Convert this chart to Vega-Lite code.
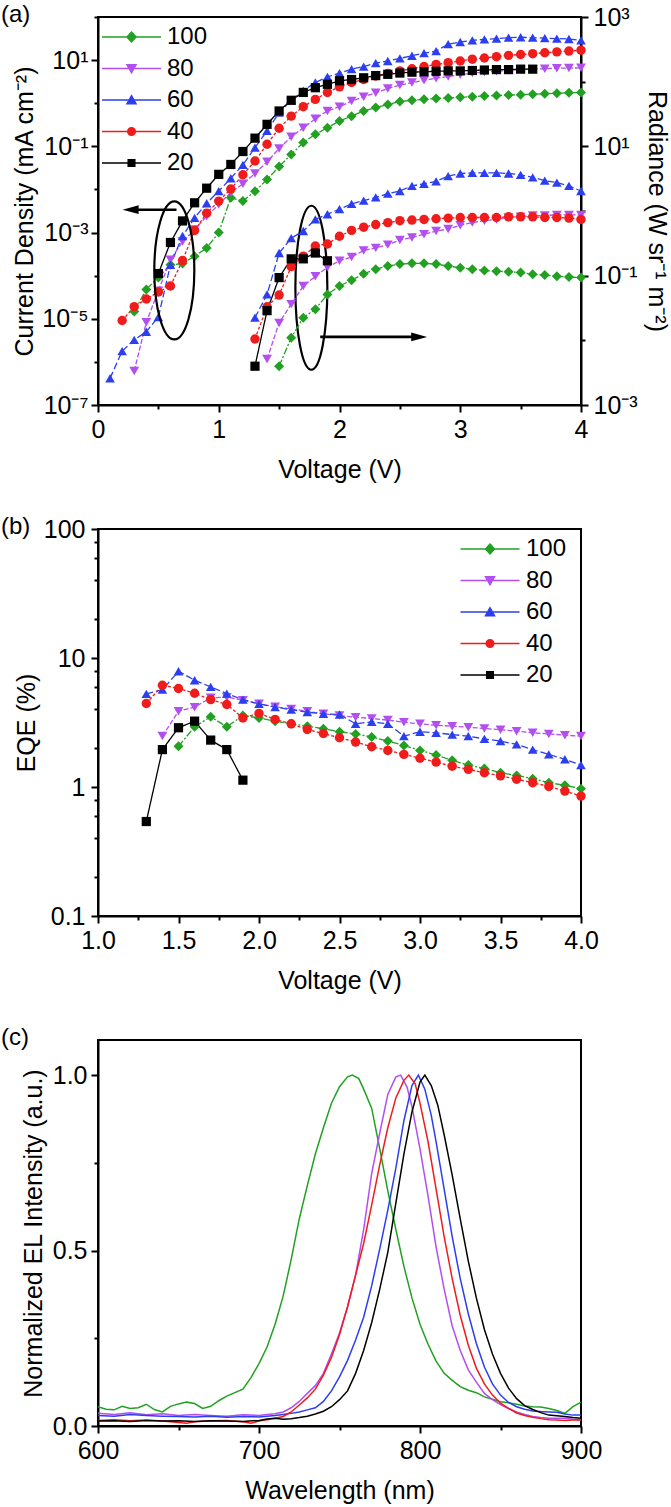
{
 "$schema": "https://vega.github.io/schema/vega-lite/v6.json",
 "background": "white",
 "padding": {"left": 0, "top": 2, "right": 4, "bottom": 4},
 "spacing": 124,
 "bounds": "flush",
 "datasets": {
  "J": [
   {"s":"100","v":0.3,"j":1.48e-5},{"s":"100","v":0.4,"j":4.79e-5},{"s":"100","v":0.5,"j":9.12e-5},{"s":"100","v":0.6,"j":1.78e-4},{"s":"100","v":0.7,"j":1.91e-4},{"s":"100","v":0.8,"j":2.82e-4},{"s":"100","v":0.9,"j":4.37e-4},{"s":"100","v":1.0,"j":1.0e-3},{"s":"100","v":1.1,"j":6.46e-3},{"s":"100","v":1.2,"j":5.37e-3},{"s":"100","v":1.3,"j":9.12e-3},{"s":"100","v":1.4,"j":1.70e-2},{"s":"100","v":1.5,"j":3.39e-2},{"s":"100","v":1.6,"j":6.46e-2},{"s":"100","v":1.7,"j":0.123},{"s":"100","v":1.8,"j":0.191},{"s":"100","v":1.9,"j":0.269},{"s":"100","v":2.0,"j":0.389},{"s":"100","v":2.1,"j":0.501},{"s":"100","v":2.2,"j":0.661},{"s":"100","v":2.3,"j":0.794},{"s":"100","v":2.4,"j":0.933},{"s":"100","v":2.5,"j":1.10},{"s":"100","v":2.6,"j":1.17},{"s":"100","v":2.7,"j":1.23},{"s":"100","v":2.8,"j":1.29},{"s":"100","v":2.9,"j":1.32},{"s":"100","v":3.0,"j":1.38},{"s":"100","v":3.1,"j":1.41},{"s":"100","v":3.2,"j":1.48},{"s":"100","v":3.3,"j":1.51},{"s":"100","v":3.4,"j":1.55},{"s":"100","v":3.5,"j":1.58},{"s":"100","v":3.6,"j":1.62},{"s":"100","v":3.7,"j":1.66},{"s":"100","v":3.8,"j":1.70},{"s":"100","v":3.9,"j":1.74},{"s":"100","v":4.0,"j":1.78},
   {"s":"80","v":0.3,"j":6.17e-7},{"s":"80","v":0.4,"j":8.32e-6},{"s":"80","v":0.5,"j":4.47e-5},{"s":"80","v":0.6,"j":2.34e-4},{"s":"80","v":0.7,"j":6.17e-4},{"s":"80","v":0.8,"j":1.17e-3},{"s":"80","v":0.9,"j":2.40e-3},{"s":"80","v":1.0,"j":4.47e-3},{"s":"80","v":1.1,"j":8.51e-3},{"s":"80","v":1.2,"j":1.35e-2},{"s":"80","v":1.3,"j":2.34e-2},{"s":"80","v":1.4,"j":4.37e-2},{"s":"80","v":1.5,"j":8.91e-2},{"s":"80","v":1.6,"j":0.166},{"s":"80","v":1.7,"j":0.269},{"s":"80","v":1.8,"j":0.437},{"s":"80","v":1.9,"j":0.661},{"s":"80","v":2.0,"j":0.832},{"s":"80","v":2.1,"j":1.12},{"s":"80","v":2.2,"j":1.41},{"s":"80","v":2.3,"j":1.74},{"s":"80","v":2.4,"j":2.19},{"s":"80","v":2.5,"j":2.63},{"s":"80","v":2.6,"j":3.02},{"s":"80","v":2.7,"j":3.39},{"s":"80","v":2.8,"j":3.80},{"s":"80","v":2.9,"j":4.17},{"s":"80","v":3.0,"j":4.57},{"s":"80","v":3.1,"j":5.01},{"s":"80","v":3.2,"j":5.25},{"s":"80","v":3.3,"j":5.50},{"s":"80","v":3.4,"j":5.75},{"s":"80","v":3.5,"j":6.03},{"s":"80","v":3.6,"j":6.17},{"s":"80","v":3.7,"j":6.31},{"s":"80","v":3.8,"j":6.46},{"s":"80","v":3.9,"j":6.53},{"s":"80","v":4.0,"j":6.61},
   {"s":"60","v":0.1,"j":4.17e-7},{"s":"60","v":0.2,"j":1.78e-6},{"s":"60","v":0.3,"j":3.24e-6},{"s":"60","v":0.4,"j":5.01e-6},{"s":"60","v":0.5,"j":1.10e-5},{"s":"60","v":0.6,"j":1.78e-4},{"s":"60","v":0.7,"j":8.32e-4},{"s":"60","v":0.8,"j":2.19e-3},{"s":"60","v":0.9,"j":4.79e-3},{"s":"60","v":1.0,"j":9.12e-3},{"s":"60","v":1.1,"j":1.82e-2},{"s":"60","v":1.2,"j":3.72e-2},{"s":"60","v":1.3,"j":9.33e-2},{"s":"60","v":1.4,"j":0.229},{"s":"60","v":1.5,"j":0.603},{"s":"60","v":1.6,"j":1.17},{"s":"60","v":1.7,"j":1.95},{"s":"60","v":1.8,"j":3.02},{"s":"60","v":1.9,"j":4.07},{"s":"60","v":2.0,"j":5.01},{"s":"60","v":2.1,"j":6.17},{"s":"60","v":2.2,"j":7.08},{"s":"60","v":2.3,"j":8.51},{"s":"60","v":2.4,"j":9.55},{"s":"60","v":2.5,"j":11.0},{"s":"60","v":2.6,"j":12.6},{"s":"60","v":2.7,"j":14.5},{"s":"60","v":2.8,"j":16.2},{"s":"60","v":2.9,"j":23.4},{"s":"60","v":3.0,"j":26.3},{"s":"60","v":3.1,"j":28.8},{"s":"60","v":3.2,"j":30.2},{"s":"60","v":3.3,"j":31.6},{"s":"60","v":3.4,"j":33.1},{"s":"60","v":3.5,"j":33.9},{"s":"60","v":3.6,"j":33.1},{"s":"60","v":3.7,"j":32.4},{"s":"60","v":3.8,"j":31.6},{"s":"60","v":3.9,"j":30.9},{"s":"60","v":4.0,"j":28.8},
   {"s":"40","v":0.2,"j":9.12e-6},{"s":"40","v":0.3,"j":1.91e-5},{"s":"40","v":0.4,"j":2.88e-5},{"s":"40","v":0.5,"j":4.17e-5},{"s":"40","v":0.6,"j":5.75e-5},{"s":"40","v":0.7,"j":2.24e-4},{"s":"40","v":0.8,"j":1.12e-3},{"s":"40","v":0.9,"j":2.82e-3},{"s":"40","v":1.0,"j":5.37e-3},{"s":"40","v":1.1,"j":1.02e-2},{"s":"40","v":1.2,"j":2.19e-2},{"s":"40","v":1.3,"j":4.57e-2},{"s":"40","v":1.4,"j":0.112},{"s":"40","v":1.5,"j":0.263},{"s":"40","v":1.6,"j":0.501},{"s":"40","v":1.7,"j":0.832},{"s":"40","v":1.8,"j":1.23},{"s":"40","v":1.9,"j":1.78},{"s":"40","v":2.0,"j":2.40},{"s":"40","v":2.1,"j":3.02},{"s":"40","v":2.2,"j":3.55},{"s":"40","v":2.3,"j":4.27},{"s":"40","v":2.4,"j":4.90},{"s":"40","v":2.5,"j":5.62},{"s":"40","v":2.6,"j":6.31},{"s":"40","v":2.7,"j":7.08},{"s":"40","v":2.8,"j":7.94},{"s":"40","v":2.9,"j":8.71},{"s":"40","v":3.0,"j":9.55},{"s":"40","v":3.1,"j":10.5},{"s":"40","v":3.2,"j":11.2},{"s":"40","v":3.3,"j":12.0},{"s":"40","v":3.4,"j":12.9},{"s":"40","v":3.5,"j":13.5},{"s":"40","v":3.6,"j":14.1},{"s":"40","v":3.7,"j":14.8},{"s":"40","v":3.8,"j":15.5},{"s":"40","v":3.9,"j":16.2},{"s":"40","v":4.0,"j":17.0},
   {"s":"20","v":0.5,"j":1.12e-4},{"s":"20","v":0.6,"j":5.89e-4},{"s":"20","v":0.7,"j":1.86e-3},{"s":"20","v":0.8,"j":4.90e-3},{"s":"20","v":0.9,"j":1.07e-2},{"s":"20","v":1.0,"j":2.24e-2},{"s":"20","v":1.1,"j":3.80e-2},{"s":"20","v":1.2,"j":7.59e-2},{"s":"20","v":1.3,"j":0.155},{"s":"20","v":1.4,"j":0.324},{"s":"20","v":1.5,"j":0.661},{"s":"20","v":1.6,"j":1.17},{"s":"20","v":1.7,"j":1.78},{"s":"20","v":1.8,"j":2.29},{"s":"20","v":1.9,"j":2.75},{"s":"20","v":2.0,"j":3.31},{"s":"20","v":2.1,"j":3.55},{"s":"20","v":2.2,"j":3.89},{"s":"20","v":2.3,"j":4.37},{"s":"20","v":2.4,"j":4.68},{"s":"20","v":2.5,"j":5.01},{"s":"20","v":2.6,"j":5.25},{"s":"20","v":2.7,"j":5.37},{"s":"20","v":2.8,"j":5.50},{"s":"20","v":2.9,"j":5.62},{"s":"20","v":3.0,"j":5.62},{"s":"20","v":3.1,"j":5.75},{"s":"20","v":3.2,"j":5.89},{"s":"20","v":3.3,"j":6.03},{"s":"20","v":3.4,"j":6.03},{"s":"20","v":3.5,"j":6.17},{"s":"20","v":3.6,"j":6.17}
  ],
  "R": [
   {"s":"100","v":1.5,"r":3.98e-3},{"s":"100","v":1.6,"r":1.10e-2},{"s":"100","v":1.7,"r":2.24e-2},{"s":"100","v":1.8,"r":3.02e-2},{"s":"100","v":1.9,"r":5.13e-2},{"s":"100","v":2.0,"r":6.92e-2},{"s":"100","v":2.1,"r":8.51e-2},{"s":"100","v":2.2,"r":0.107},{"s":"100","v":2.3,"r":0.126},{"s":"100","v":2.4,"r":0.141},{"s":"100","v":2.5,"r":0.151},{"s":"100","v":2.6,"r":0.155},{"s":"100","v":2.7,"r":0.155},{"s":"100","v":2.8,"r":0.151},{"s":"100","v":2.9,"r":0.141},{"s":"100","v":3.0,"r":0.132},{"s":"100","v":3.1,"r":0.126},{"s":"100","v":3.2,"r":0.120},{"s":"100","v":3.3,"r":0.117},{"s":"100","v":3.4,"r":0.115},{"s":"100","v":3.5,"r":0.112},{"s":"100","v":3.6,"r":0.105},{"s":"100","v":3.7,"r":0.102},{"s":"100","v":3.8,"r":0.0977},{"s":"100","v":3.9,"r":0.0955},{"s":"100","v":4.0,"r":0.0933},
   {"s":"80","v":1.4,"r":5.13e-3},{"s":"80","v":1.5,"r":1.86e-2},{"s":"80","v":1.6,"r":3.63e-2},{"s":"80","v":1.7,"r":6.92e-2},{"s":"80","v":1.8,"r":9.77e-2},{"s":"80","v":1.9,"r":0.135},{"s":"80","v":2.0,"r":0.170},{"s":"80","v":2.1,"r":0.195},{"s":"80","v":2.2,"r":0.245},{"s":"80","v":2.3,"r":0.269},{"s":"80","v":2.4,"r":0.302},{"s":"80","v":2.5,"r":0.355},{"s":"80","v":2.6,"r":0.389},{"s":"80","v":2.7,"r":0.437},{"s":"80","v":2.8,"r":0.490},{"s":"80","v":2.9,"r":0.525},{"s":"80","v":3.0,"r":0.603},{"s":"80","v":3.1,"r":0.661},{"s":"80","v":3.2,"r":0.708},{"s":"80","v":3.3,"r":0.741},{"s":"80","v":3.4,"r":0.794},{"s":"80","v":3.5,"r":0.813},{"s":"80","v":3.6,"r":0.851},{"s":"80","v":3.7,"r":0.851},{"s":"80","v":3.8,"r":0.871},{"s":"80","v":3.9,"r":0.871},{"s":"80","v":4.0,"r":0.871},
   {"s":"60","v":1.3,"r":2.24e-2},{"s":"60","v":1.4,"r":5.13e-2},{"s":"60","v":1.5,"r":0.224},{"s":"60","v":1.6,"r":0.380},{"s":"60","v":1.7,"r":0.490},{"s":"60","v":1.8,"r":0.741},{"s":"60","v":1.9,"r":0.891},{"s":"60","v":2.0,"r":1.07},{"s":"60","v":2.1,"r":1.29},{"s":"60","v":2.2,"r":1.45},{"s":"60","v":2.3,"r":1.62},{"s":"60","v":2.4,"r":1.86},{"s":"60","v":2.5,"r":2.04},{"s":"60","v":2.6,"r":2.45},{"s":"60","v":2.7,"r":2.63},{"s":"60","v":2.8,"r":2.88},{"s":"60","v":2.9,"r":3.47},{"s":"60","v":3.0,"r":3.80},{"s":"60","v":3.1,"r":3.89},{"s":"60","v":3.2,"r":3.89},{"s":"60","v":3.3,"r":3.89},{"s":"60","v":3.4,"r":3.80},{"s":"60","v":3.5,"r":3.63},{"s":"60","v":3.6,"r":3.31},{"s":"60","v":3.7,"r":2.95},{"s":"60","v":3.8,"r":2.75},{"s":"60","v":3.9,"r":2.45},{"s":"60","v":4.0,"r":2.04},
   {"s":"40","v":1.3,"r":1.05e-2},{"s":"40","v":1.4,"r":3.31e-2},{"s":"40","v":1.5,"r":5.01e-2},{"s":"40","v":1.6,"r":0.138},{"s":"40","v":1.7,"r":0.200},{"s":"40","v":1.8,"r":0.288},{"s":"40","v":1.9,"r":0.309},{"s":"40","v":2.0,"r":0.407},{"s":"40","v":2.1,"r":0.501},{"s":"40","v":2.2,"r":0.562},{"s":"40","v":2.3,"r":0.617},{"s":"40","v":2.4,"r":0.661},{"s":"40","v":2.5,"r":0.708},{"s":"40","v":2.6,"r":0.724},{"s":"40","v":2.7,"r":0.741},{"s":"40","v":2.8,"r":0.759},{"s":"40","v":2.9,"r":0.776},{"s":"40","v":3.0,"r":0.794},{"s":"40","v":3.1,"r":0.794},{"s":"40","v":3.2,"r":0.794},{"s":"40","v":3.3,"r":0.794},{"s":"40","v":3.4,"r":0.813},{"s":"40","v":3.5,"r":0.813},{"s":"40","v":3.6,"r":0.813},{"s":"40","v":3.7,"r":0.794},{"s":"40","v":3.8,"r":0.794},{"s":"40","v":3.9,"r":0.776},{"s":"40","v":4.0,"r":0.741},
   {"s":"20","v":1.3,"r":3.98e-3},{"s":"20","v":1.4,"r":2.88e-2},{"s":"20","v":1.5,"r":9.33e-2},{"s":"20","v":1.6,"r":0.182},{"s":"20","v":1.7,"r":0.182},{"s":"20","v":1.8,"r":0.224},{"s":"20","v":1.9,"r":0.170}
  ],
  "E": [
   {"s":"100","v":1.5,"e":2.07},{"s":"100","v":1.6,"e":2.93},{"s":"100","v":1.7,"e":3.50},{"s":"100","v":1.8,"e":2.93},{"s":"100","v":1.9,"e":3.58},{"s":"100","v":2.0,"e":3.43},{"s":"100","v":2.1,"e":3.24},{"s":"100","v":2.2,"e":3.09},{"s":"100","v":2.3,"e":2.96},{"s":"100","v":2.4,"e":2.83},{"s":"100","v":2.5,"e":2.68},{"s":"100","v":2.6,"e":2.58},{"s":"100","v":2.7,"e":2.44},{"s":"100","v":2.8,"e":2.27},{"s":"100","v":2.9,"e":2.10},{"s":"100","v":3.0,"e":1.92},{"s":"100","v":3.1,"e":1.77},{"s":"100","v":3.2,"e":1.61},{"s":"100","v":3.3,"e":1.48},{"s":"100","v":3.4,"e":1.39},{"s":"100","v":3.5,"e":1.29},{"s":"100","v":3.6,"e":1.23},{"s":"100","v":3.7,"e":1.16},{"s":"100","v":3.8,"e":1.08},{"s":"100","v":3.9,"e":1.03},{"s":"100","v":4.0,"e":0.97},
   {"s":"80","v":1.4,"e":2.48},{"s":"80","v":1.5,"e":3.87},{"s":"80","v":1.6,"e":4.16},{"s":"80","v":1.7,"e":4.91},{"s":"80","v":1.8,"e":4.97},{"s":"80","v":1.9,"e":4.71},{"s":"80","v":2.0,"e":4.41},{"s":"80","v":2.1,"e":4.18},{"s":"80","v":2.2,"e":4.03},{"s":"80","v":2.3,"e":3.87},{"s":"80","v":2.4,"e":3.69},{"s":"80","v":2.5,"e":3.58},{"s":"80","v":2.6,"e":3.48},{"s":"80","v":2.7,"e":3.40},{"s":"80","v":2.8,"e":3.30},{"s":"80","v":2.9,"e":3.18},{"s":"80","v":3.0,"e":3.09},{"s":"80","v":3.1,"e":3.01},{"s":"80","v":3.2,"e":2.96},{"s":"80","v":3.3,"e":2.91},{"s":"80","v":3.4,"e":2.84},{"s":"80","v":3.5,"e":2.78},{"s":"80","v":3.6,"e":2.71},{"s":"80","v":3.7,"e":2.63},{"s":"80","v":3.8,"e":2.58},{"s":"80","v":3.9,"e":2.52},{"s":"80","v":4.0,"e":2.48},
   {"s":"60","v":1.3,"e":5.27},{"s":"60","v":1.4,"e":5.69},{"s":"60","v":1.5,"e":7.89},{"s":"60","v":1.6,"e":6.72},{"s":"60","v":1.7,"e":5.97},{"s":"60","v":1.8,"e":5.30},{"s":"60","v":1.9,"e":4.76},{"s":"60","v":2.0,"e":4.41},{"s":"60","v":2.1,"e":4.16},{"s":"60","v":2.2,"e":3.98},{"s":"60","v":2.3,"e":3.80},{"s":"60","v":2.4,"e":3.69},{"s":"60","v":2.5,"e":3.65},{"s":"60","v":2.6,"e":3.09},{"s":"60","v":2.7,"e":3.20},{"s":"60","v":2.8,"e":3.09},{"s":"60","v":2.9,"e":2.48},{"s":"60","v":3.0,"e":2.68},{"s":"60","v":3.1,"e":2.63},{"s":"60","v":3.2,"e":2.55},{"s":"60","v":3.3,"e":2.48},{"s":"60","v":3.4,"e":2.36},{"s":"60","v":3.5,"e":2.27},{"s":"60","v":3.6,"e":2.14},{"s":"60","v":3.7,"e":1.95},{"s":"60","v":3.8,"e":1.79},{"s":"60","v":3.9,"e":1.64},{"s":"60","v":4.0,"e":1.48},
   {"s":"40","v":1.3,"e":4.44},{"s":"40","v":1.4,"e":6.15},{"s":"40","v":1.5,"e":5.80},{"s":"40","v":1.6,"e":5.33},{"s":"40","v":1.7,"e":4.76},{"s":"40","v":1.8,"e":4.36},{"s":"40","v":1.9,"e":3.43},{"s":"40","v":2.0,"e":3.72},{"s":"40","v":2.1,"e":3.34},{"s":"40","v":2.2,"e":3.09},{"s":"40","v":2.3,"e":2.79},{"s":"40","v":2.4,"e":2.60},{"s":"40","v":2.5,"e":2.41},{"s":"40","v":2.6,"e":2.23},{"s":"40","v":2.7,"e":2.05},{"s":"40","v":2.8,"e":1.92},{"s":"40","v":2.9,"e":1.79},{"s":"40","v":3.0,"e":1.67},{"s":"40","v":3.1,"e":1.56},{"s":"40","v":3.2,"e":1.45},{"s":"40","v":3.3,"e":1.37},{"s":"40","v":3.4,"e":1.29},{"s":"40","v":3.5,"e":1.22},{"s":"40","v":3.6,"e":1.15},{"s":"40","v":3.7,"e":1.08},{"s":"40","v":3.8,"e":1.01},{"s":"40","v":3.9,"e":0.93},{"s":"40","v":4.0,"e":0.85},
   {"s":"20","v":1.3,"e":0.54},{"s":"20","v":1.4,"e":1.95},{"s":"20","v":1.5,"e":2.88},{"s":"20","v":1.6,"e":3.24},{"s":"20","v":1.7,"e":2.31},{"s":"20","v":1.8,"e":1.95},{"s":"20","v":1.9,"e":1.13}
  ],
  "EL": [
   {"s":"100","w":600,"i":0.055},{"s":"100","w":605,"i":0.048},{"s":"100","w":610,"i":0.046},{"s":"100","w":615,"i":0.056},{"s":"100","w":620,"i":0.05},{"s":"100","w":625,"i":0.052},{"s":"100","w":630,"i":0.062},{"s":"100","w":635,"i":0.047},{"s":"100","w":640,"i":0.04},{"s":"100","w":645,"i":0.056},{"s":"100","w":650,"i":0.063},{"s":"100","w":655,"i":0.068},{"s":"100","w":660,"i":0.064},{"s":"100","w":665,"i":0.05},{"s":"100","w":670,"i":0.056},{"s":"100","w":675,"i":0.072},{"s":"100","w":680,"i":0.085},{"s":"100","w":685,"i":0.095},{"s":"100","w":690,"i":0.105},{"s":"100","w":695,"i":0.138},{"s":"100","w":700,"i":0.178},{"s":"100","w":705,"i":0.225},{"s":"100","w":710,"i":0.29},{"s":"100","w":715,"i":0.37},{"s":"100","w":720,"i":0.475},{"s":"100","w":725,"i":0.59},{"s":"100","w":730,"i":0.685},{"s":"100","w":735,"i":0.775},{"s":"100","w":740,"i":0.85},{"s":"100","w":745,"i":0.92},{"s":"100","w":750,"i":0.967},{"s":"100","w":755,"i":0.995},{"s":"100","w":758,"i":1.0},{"s":"100","w":762,"i":0.99},{"s":"100","w":765,"i":0.96},{"s":"100","w":770,"i":0.905},{"s":"100","w":775,"i":0.79},{"s":"100","w":780,"i":0.67},{"s":"100","w":785,"i":0.56},{"s":"100","w":790,"i":0.455},{"s":"100","w":795,"i":0.365},{"s":"100","w":800,"i":0.29},{"s":"100","w":805,"i":0.233},{"s":"100","w":810,"i":0.185},{"s":"100","w":815,"i":0.15},{"s":"100","w":820,"i":0.13},{"s":"100","w":825,"i":0.112},{"s":"100","w":830,"i":0.102},{"s":"100","w":835,"i":0.095},{"s":"100","w":840,"i":0.083},{"s":"100","w":845,"i":0.076},{"s":"100","w":850,"i":0.069},{"s":"100","w":855,"i":0.066},{"s":"100","w":860,"i":0.062},{"s":"100","w":865,"i":0.057},{"s":"100","w":870,"i":0.055},{"s":"100","w":875,"i":0.054},{"s":"100","w":880,"i":0.05},{"s":"100","w":885,"i":0.044},{"s":"100","w":890,"i":0.036},{"s":"100","w":895,"i":0.055},{"s":"100","w":900,"i":0.068},
   {"s":"80","w":600,"i":0.036},{"s":"80","w":610,"i":0.033},{"s":"80","w":620,"i":0.038},{"s":"80","w":630,"i":0.032},{"s":"80","w":640,"i":0.035},{"s":"80","w":650,"i":0.03},{"s":"80","w":660,"i":0.033},{"s":"80","w":670,"i":0.03},{"s":"80","w":680,"i":0.028},{"s":"80","w":690,"i":0.032},{"s":"80","w":700,"i":0.03},{"s":"80","w":705,"i":0.033},{"s":"80","w":710,"i":0.035},{"s":"80","w":715,"i":0.04},{"s":"80","w":720,"i":0.052},{"s":"80","w":725,"i":0.07},{"s":"80","w":730,"i":0.093},{"s":"80","w":735,"i":0.115},{"s":"80","w":740,"i":0.15},{"s":"80","w":745,"i":0.205},{"s":"80","w":750,"i":0.265},{"s":"80","w":755,"i":0.34},{"s":"80","w":760,"i":0.43},{"s":"80","w":765,"i":0.56},{"s":"80","w":770,"i":0.72},{"s":"80","w":775,"i":0.835},{"s":"80","w":780,"i":0.945},{"s":"80","w":785,"i":0.995},{"s":"80","w":788,"i":1.0},{"s":"80","w":792,"i":0.965},{"s":"80","w":795,"i":0.91},{"s":"80","w":800,"i":0.79},{"s":"80","w":805,"i":0.655},{"s":"80","w":810,"i":0.51},{"s":"80","w":815,"i":0.39},{"s":"80","w":820,"i":0.285},{"s":"80","w":825,"i":0.215},{"s":"80","w":830,"i":0.16},{"s":"80","w":835,"i":0.125},{"s":"80","w":840,"i":0.093},{"s":"80","w":845,"i":0.075},{"s":"80","w":850,"i":0.061},{"s":"80","w":855,"i":0.05},{"s":"80","w":860,"i":0.04},{"s":"80","w":865,"i":0.033},{"s":"80","w":870,"i":0.027},{"s":"80","w":875,"i":0.024},{"s":"80","w":880,"i":0.022},{"s":"80","w":885,"i":0.022},{"s":"80","w":890,"i":0.022},{"s":"80","w":895,"i":0.019},{"s":"80","w":900,"i":0.017},
   {"s":"60","w":600,"i":0.03},{"s":"60","w":610,"i":0.028},{"s":"60","w":620,"i":0.033},{"s":"60","w":630,"i":0.03},{"s":"60","w":640,"i":0.028},{"s":"60","w":650,"i":0.027},{"s":"60","w":660,"i":0.026},{"s":"60","w":670,"i":0.028},{"s":"60","w":680,"i":0.025},{"s":"60","w":690,"i":0.027},{"s":"60","w":700,"i":0.026},{"s":"60","w":710,"i":0.03},{"s":"60","w":715,"i":0.033},{"s":"60","w":720,"i":0.036},{"s":"60","w":725,"i":0.04},{"s":"60","w":730,"i":0.046},{"s":"60","w":735,"i":0.052},{"s":"60","w":740,"i":0.07},{"s":"60","w":745,"i":0.1},{"s":"60","w":750,"i":0.14},{"s":"60","w":755,"i":0.187},{"s":"60","w":760,"i":0.245},{"s":"60","w":765,"i":0.31},{"s":"60","w":770,"i":0.4},{"s":"60","w":775,"i":0.505},{"s":"60","w":780,"i":0.615},{"s":"60","w":785,"i":0.735},{"s":"60","w":790,"i":0.87},{"s":"60","w":795,"i":0.97},{"s":"60","w":799,"i":1.0},{"s":"60","w":803,"i":0.96},{"s":"60","w":807,"i":0.885},{"s":"60","w":810,"i":0.81},{"s":"60","w":815,"i":0.675},{"s":"60","w":820,"i":0.54},{"s":"60","w":825,"i":0.42},{"s":"60","w":830,"i":0.32},{"s":"60","w":835,"i":0.235},{"s":"60","w":840,"i":0.168},{"s":"60","w":845,"i":0.12},{"s":"60","w":850,"i":0.088},{"s":"60","w":855,"i":0.067},{"s":"60","w":860,"i":0.055},{"s":"60","w":865,"i":0.048},{"s":"60","w":870,"i":0.043},{"s":"60","w":875,"i":0.041},{"s":"60","w":880,"i":0.04},{"s":"60","w":885,"i":0.039},{"s":"60","w":890,"i":0.034},{"s":"60","w":895,"i":0.031},{"s":"60","w":900,"i":0.031},
   {"s":"40","w":600,"i":0.016},{"s":"40","w":610,"i":0.018},{"s":"40","w":620,"i":0.015},{"s":"40","w":630,"i":0.017},{"s":"40","w":640,"i":0.014},{"s":"40","w":650,"i":0.01},{"s":"40","w":655,"i":0.008},{"s":"40","w":660,"i":0.012},{"s":"40","w":670,"i":0.015},{"s":"40","w":680,"i":0.016},{"s":"40","w":690,"i":0.012},{"s":"40","w":695,"i":0.008},{"s":"40","w":700,"i":0.014},{"s":"40","w":705,"i":0.018},{"s":"40","w":710,"i":0.022},{"s":"40","w":715,"i":0.027},{"s":"40","w":720,"i":0.04},{"s":"40","w":725,"i":0.06},{"s":"40","w":730,"i":0.08},{"s":"40","w":735,"i":0.105},{"s":"40","w":740,"i":0.145},{"s":"40","w":745,"i":0.195},{"s":"40","w":750,"i":0.26},{"s":"40","w":755,"i":0.34},{"s":"40","w":760,"i":0.43},{"s":"40","w":765,"i":0.52},{"s":"40","w":770,"i":0.63},{"s":"40","w":775,"i":0.745},{"s":"40","w":780,"i":0.85},{"s":"40","w":785,"i":0.935},{"s":"40","w":790,"i":0.985},{"s":"40","w":793,"i":1.0},{"s":"40","w":797,"i":0.975},{"s":"40","w":800,"i":0.92},{"s":"40","w":805,"i":0.81},{"s":"40","w":810,"i":0.675},{"s":"40","w":815,"i":0.54},{"s":"40","w":820,"i":0.42},{"s":"40","w":825,"i":0.315},{"s":"40","w":830,"i":0.23},{"s":"40","w":835,"i":0.165},{"s":"40","w":840,"i":0.12},{"s":"40","w":845,"i":0.088},{"s":"40","w":850,"i":0.065},{"s":"40","w":855,"i":0.05},{"s":"40","w":860,"i":0.037},{"s":"40","w":865,"i":0.03},{"s":"40","w":870,"i":0.025},{"s":"40","w":875,"i":0.021},{"s":"40","w":880,"i":0.018},{"s":"40","w":885,"i":0.017},{"s":"40","w":890,"i":0.016},{"s":"40","w":895,"i":0.017},{"s":"40","w":900,"i":0.017},
   {"s":"20","w":600,"i":0.014},{"s":"20","w":610,"i":0.015},{"s":"20","w":620,"i":0.013},{"s":"20","w":630,"i":0.016},{"s":"20","w":640,"i":0.014},{"s":"20","w":650,"i":0.015},{"s":"20","w":660,"i":0.013},{"s":"20","w":670,"i":0.015},{"s":"20","w":680,"i":0.014},{"s":"20","w":690,"i":0.013},{"s":"20","w":700,"i":0.016},{"s":"20","w":705,"i":0.02},{"s":"20","w":710,"i":0.022},{"s":"20","w":715,"i":0.019},{"s":"20","w":720,"i":0.021},{"s":"20","w":725,"i":0.024},{"s":"20","w":730,"i":0.028},{"s":"20","w":735,"i":0.034},{"s":"20","w":740,"i":0.042},{"s":"20","w":745,"i":0.055},{"s":"20","w":750,"i":0.075},{"s":"20","w":755,"i":0.1},{"s":"20","w":760,"i":0.15},{"s":"20","w":765,"i":0.215},{"s":"20","w":770,"i":0.295},{"s":"20","w":775,"i":0.39},{"s":"20","w":780,"i":0.495},{"s":"20","w":785,"i":0.635},{"s":"20","w":790,"i":0.775},{"s":"20","w":795,"i":0.895},{"s":"20","w":800,"i":0.98},{"s":"20","w":803,"i":1.0},{"s":"20","w":807,"i":0.97},{"s":"20","w":811,"i":0.915},{"s":"20","w":815,"i":0.83},{"s":"20","w":820,"i":0.715},{"s":"20","w":825,"i":0.59},{"s":"20","w":830,"i":0.47},{"s":"20","w":835,"i":0.365},{"s":"20","w":840,"i":0.275},{"s":"20","w":845,"i":0.205},{"s":"20","w":850,"i":0.15},{"s":"20","w":855,"i":0.108},{"s":"20","w":860,"i":0.078},{"s":"20","w":865,"i":0.058},{"s":"20","w":870,"i":0.047},{"s":"20","w":875,"i":0.038},{"s":"20","w":880,"i":0.031},{"s":"20","w":885,"i":0.029},{"s":"20","w":890,"i":0.027},{"s":"20","w":895,"i":0.024},{"s":"20","w":900,"i":0.022}
  ],
  "ellA": [{"v":0.632,"j":1.32e-4}],
  "ellB": [{"v":1.767,"j":5.25e-5}],
  "arrows": [{"k":"L","v":0.65,"j":3.39e-3},{"k":"L","v":0.31,"j":3.39e-3},{"k":"R","v":1.84,"j":3.8e-6},{"k":"R","v":2.62,"j":3.8e-6}],
  "headL": [{"v":0.27,"j":3.39e-3}],
  "headR": [{"v":2.66,"j":3.8e-6}]
 },
 "vconcat": [
  {
   "width": 483, "height": 388,
   "title": {"text": "(a)", "anchor": "start", "frame": "group", "orient": "top", "offset": 0, "dx": -97, "dy": 41, "baseline": "alphabetic", "fontSize": 24, "fontWeight": "normal", "font": "Liberation Sans", "color": "black"},
   "encoding": {
    "x": {"field": "v", "type": "quantitative", "scale": {"domain": [0, 4], "nice": false, "zero": false},
     "axis": {"title": "Voltage (V)", "values": [0,0.5,1,1.5,2,2.5,3,3.5,4], "labelExpr": "datum.value % 1 == 0 ? format(datum.value, 'd') : ''", "tickSize": {"condition": {"test": "datum.value % 1 == 0", "value": 7}, "value": 4}, "labelPadding": 5, "titleY": 64, "titleBaseline": "middle"}}
   },
   "layer": [
    {
     "encoding": {"y": {"field": "j", "type": "quantitative", "scale": {"type": "log", "domain": [1e-7, 100], "nice": false},
      "axis": {"title": "Current Density (mA cm⁻²)", "values": [1e-7,1e-6,1e-5,1e-4,1e-3,1e-2,1e-1,1,10,100], "labelExpr": "round(log(datum.value)/LN10) == -7 ? '10⁻⁷' : round(log(datum.value)/LN10) == -5 ? '10⁻⁵' : round(log(datum.value)/LN10) == -3 ? '10⁻³' : round(log(datum.value)/LN10) == -1 ? '10⁻¹' : round(log(datum.value)/LN10) == 1 ? '10¹' : ''", "tickSize": {"condition": {"test": "abs(round(log(datum.value)/LN10)) % 2 == 1", "value": 7}, "value": 4}, "labelPadding": 3, "titleX": -74, "titleBaseline": "middle"}}},
     "layer": [
      {"data": {"name": "J"}, "mark": {"type": "line", "strokeWidth": 1.3},
       "encoding": {"color": {"field": "s", "type": "nominal", "scale": {"domain": ["100","80","60","40","20"], "range": ["#22a022","#b34ef0","#2c3ff0","#f01c1c","#000000"]}, "legend": null},
        "strokeDash": {"field": "s", "type": "nominal", "scale": {"domain": ["100","80","60","40","20"], "range": [[7,2,2,2],[5,2],[7,3],[3,2],[1,0]]}, "legend": null}}},
      {"data": {"name": "J"}, "mark": {"type": "point", "filled": true, "opacity": 1},
       "encoding": {"color": {"field": "s", "type": "nominal", "scale": {"domain": ["100","80","60","40","20"], "range": ["#22a022","#b34ef0","#2c3ff0","#f01c1c","#000000"]}, "legend": null},
        "shape": {"field": "s", "type": "nominal", "scale": {"domain": ["100","80","60","40","20"], "range": ["diamond","triangle-down","triangle-up","circle","square"]}, "legend": null},
        "size": {"field": "s", "type": "nominal", "scale": {"domain": ["100","80","60","40","20"], "range": [100,85,85,70,50]}, "legend": null}}},
      {"data": {"name": "ellA"}, "mark": {"type": "point", "shape": "M0,-1C0.16,-1 0.29,-0.552 0.29,0C0.29,0.552 0.16,1 0,1C-0.16,1 -0.29,0.552 -0.29,0C-0.29,-0.552 -0.16,-1 0,-1Z", "size": 19044, "filled": false, "color": "black", "strokeWidth": 2.2, "opacity": 1}},
      {"data": {"name": "ellB"}, "mark": {"type": "point", "shape": "M0,-1C0.108,-1 0.195,-0.552 0.195,0C0.195,0.552 0.108,1 0,1C-0.108,1 -0.195,0.552 -0.195,0C-0.195,-0.552 -0.108,-1 0,-1Z", "size": 26896, "filled": false, "color": "black", "strokeWidth": 2.2, "opacity": 1}},
      {"data": {"name": "arrows"}, "mark": {"type": "line", "color": "black", "strokeWidth": 2.6}, "encoding": {"detail": {"field": "k", "type": "nominal"}}},
      {"data": {"name": "headL"}, "mark": {"type": "point", "shape": "M-1,0L1,-0.55L1,0.55Z", "size": 256, "filled": true, "color": "black", "opacity": 1}},
      {"data": {"name": "headR"}, "mark": {"type": "point", "shape": "M1,0L-1,-0.55L-1,0.55Z", "size": 256, "filled": true, "color": "black", "opacity": 1}}
     ]
    },
    {
     "data": {"name": "R"},
     "encoding": {"y": {"field": "r", "type": "quantitative", "scale": {"type": "log", "domain": [1e-3, 1000], "nice": false},
      "axis": {"orient": "right", "title": "Radiance (W sr⁻¹ m⁻²)", "values": [1e-3,1e-2,1e-1,1,10,100,1000], "labelExpr": "round(log(datum.value)/LN10) == -3 ? '10⁻³' : round(log(datum.value)/LN10) == -1 ? '10⁻¹' : round(log(datum.value)/LN10) == 1 ? '10¹' : round(log(datum.value)/LN10) == 3 ? '10³' : ''", "tickSize": {"condition": {"test": "abs(round(log(datum.value)/LN10)) % 2 == 1", "value": 7}, "value": 4}, "labelPadding": 5, "titleX": 75, "titleBaseline": "middle"}}},
     "layer": [
      {"mark": {"type": "line", "strokeWidth": 1.3},
       "encoding": {"color": {"field": "s", "type": "nominal", "scale": {"domain": ["100","80","60","40","20"], "range": ["#22a022","#b34ef0","#2c3ff0","#f01c1c","#000000"]}, "legend": null},
        "strokeDash": {"field": "s", "type": "nominal", "scale": {"domain": ["100","80","60","40","20"], "range": [[7,2,2,2],[5,2],[7,3],[3,2],[1,0]]}, "legend": null}}},
      {"mark": {"type": "point", "filled": true, "opacity": 1},
       "encoding": {"color": {"field": "s", "type": "nominal", "scale": {"domain": ["100","80","60","40","20"], "range": ["#22a022","#b34ef0","#2c3ff0","#f01c1c","#000000"]}, "legend": null},
        "shape": {"field": "s", "type": "nominal", "scale": {"domain": ["100","80","60","40","20"], "range": ["diamond","triangle-down","triangle-up","circle","square"]}, "legend": null},
        "size": {"field": "s", "type": "nominal", "scale": {"domain": ["100","80","60","40","20"], "range": [100,85,85,70,50]}, "legend": null}}}
     ]
    },
    {
     "data": {"values": [{"s": "100"}]},
     "transform": [{"filter": "false"}],
     "mark": {"type": "point", "filled": true, "strokeWidth": 1.5},
     "encoding": {
      "shape": {"field": "s", "type": "nominal", "scale": {"domain": ["100","80","60","40","20"], "range": ["M-2.95,0H2.95M0,-0.5L0.45,0L0,0.5L-0.45,0Z","M-2.95,0H2.95M-0.45,-0.38L0.45,-0.38L0,0.42Z","M-2.95,0H2.95M-0.45,0.38L0.45,0.38L0,-0.42Z","M-2.95,0H2.95M0.38,0C0.38,0.21 0.21,0.38 0,0.38C-0.21,0.38 -0.38,0.21 -0.38,0C-0.38,-0.21 -0.21,-0.38 0,-0.38C0.21,-0.38 0.38,-0.21 0.38,0Z","M-2.95,0H2.95M-0.33,-0.33H0.33V0.33H-0.33Z"]},
       "legend": {"title": null, "orient": "none", "legendX": 21.5, "legendY": 8, "symbolSize": 400, "symbolStrokeWidth": 1.5, "labelFontSize": 24, "labelFont": "Liberation Sans", "labelColor": "black", "labelOffset": 23.5, "rowPadding": 7.5, "padding": 0, "symbolOpacity": 1,
        "encoding": {"symbols": {
         "fill": {"condition": [{"test": "datum.value == '100'", "value": "#22a022"}, {"test": "datum.value == '80'", "value": "#b34ef0"}, {"test": "datum.value == '60'", "value": "#2c3ff0"}, {"test": "datum.value == '40'", "value": "#f01c1c"}], "value": "#000000"},
         "stroke": {"condition": [{"test": "datum.value == '100'", "value": "#22a022"}, {"test": "datum.value == '80'", "value": "#b34ef0"}, {"test": "datum.value == '60'", "value": "#2c3ff0"}, {"test": "datum.value == '40'", "value": "#f01c1c"}], "value": "#000000"},
         "strokeWidth": {"value": 1.5}, "opacity": {"value": 1}}}}}
     }
    }
   ],
   "resolve": {"scale": {"y": "independent", "shape": "independent"}}
  },
  {
   "width": 483, "height": 387,
   "title": {"text": "(b)", "anchor": "start", "frame": "group", "orient": "top", "offset": 0, "dx": -97, "dy": 41, "baseline": "alphabetic", "fontSize": 24, "fontWeight": "normal", "font": "Liberation Sans", "color": "black"},
   "encoding": {
    "x": {"field": "v", "type": "quantitative", "scale": {"domain": [1, 4], "nice": false, "zero": false},
     "axis": {"title": "Voltage (V)", "values": [1,1.25,1.5,1.75,2,2.25,2.5,2.75,3,3.25,3.5,3.75,4], "labelExpr": "(datum.value * 2) % 1 == 0 ? format(datum.value, '.1f') : ''", "tickSize": {"condition": {"test": "(datum.value * 2) % 1 == 0", "value": 7}, "value": 4}, "labelPadding": 5, "titleY": 64, "titleBaseline": "middle"}}
   },
   "layer": [
    {
     "data": {"name": "E"},
     "encoding": {"y": {"field": "e", "type": "quantitative", "scale": {"type": "log", "domain": [0.1, 100], "nice": false},
      "axis": {"title": "EQE (%)", "values": [0.1,0.2,0.4,0.6,0.8,1,2,4,6,8,10,20,40,60,80,100], "labelExpr": "abs(log(datum.value)/LN10 - round(log(datum.value)/LN10)) < 0.01 ? (datum.value < 0.5 ? '0.1' : format(datum.value, 'd')) : ''", "tickSize": {"condition": {"test": "abs(log(datum.value)/LN10 - round(log(datum.value)/LN10)) < 0.01", "value": 7}, "value": 4}, "labelPadding": 6, "titleX": -72, "titleBaseline": "middle"}}},
     "layer": [
      {"mark": {"type": "line", "strokeWidth": 1.3},
       "encoding": {"color": {"field": "s", "type": "nominal", "scale": {"domain": ["100","80","60","40","20"], "range": ["#22a022","#b34ef0","#2c3ff0","#f01c1c","#000000"]}, "legend": null},
        "strokeDash": {"field": "s", "type": "nominal", "scale": {"domain": ["100","80","60","40","20"], "range": [[7,2,2,2],[5,2],[7,3],[3,2],[1,0]]}, "legend": null}}},
      {"mark": {"type": "point", "filled": true, "opacity": 1},
       "encoding": {"color": {"field": "s", "type": "nominal", "scale": {"domain": ["100","80","60","40","20"], "range": ["#22a022","#b34ef0","#2c3ff0","#f01c1c","#000000"]}, "legend": null},
        "shape": {"field": "s", "type": "nominal", "scale": {"domain": ["100","80","60","40","20"], "range": ["diamond","triangle-down","triangle-up","circle","square"]}, "legend": null},
        "size": {"field": "s", "type": "nominal", "scale": {"domain": ["100","80","60","40","20"], "range": [105,90,90,75,60]}, "legend": null}}}
     ]
    },
    {
     "data": {"values": [{"s": "100"}]},
     "transform": [{"filter": "false"}],
     "mark": {"type": "point", "filled": true, "strokeWidth": 1.5},
     "encoding": {
      "shape": {"field": "s", "type": "nominal", "scale": {"domain": ["100","80","60","40","20"], "range": ["M-2.95,0H2.95M0,-0.5L0.45,0L0,0.5L-0.45,0Z","M-2.95,0H2.95M-0.45,-0.38L0.45,-0.38L0,0.42Z","M-2.95,0H2.95M-0.45,0.38L0.45,0.38L0,-0.42Z","M-2.95,0H2.95M0.38,0C0.38,0.21 0.21,0.38 0,0.38C-0.21,0.38 -0.38,0.21 -0.38,0C-0.38,-0.21 -0.21,-0.38 0,-0.38C0.21,-0.38 0.38,-0.21 0.38,0Z","M-2.95,0H2.95M-0.33,-0.33H0.33V0.33H-0.33Z"]},
       "legend": {"title": null, "orient": "none", "legendX": 380, "legendY": 8, "symbolSize": 400, "symbolStrokeWidth": 1.5, "labelFontSize": 24, "labelFont": "Liberation Sans", "labelColor": "black", "labelOffset": 24, "rowPadding": 7.5, "padding": 0, "symbolOpacity": 1,
        "encoding": {"symbols": {
         "fill": {"condition": [{"test": "datum.value == '100'", "value": "#22a022"}, {"test": "datum.value == '80'", "value": "#b34ef0"}, {"test": "datum.value == '60'", "value": "#2c3ff0"}, {"test": "datum.value == '40'", "value": "#f01c1c"}], "value": "#000000"},
         "stroke": {"condition": [{"test": "datum.value == '100'", "value": "#22a022"}, {"test": "datum.value == '80'", "value": "#b34ef0"}, {"test": "datum.value == '60'", "value": "#2c3ff0"}, {"test": "datum.value == '40'", "value": "#f01c1c"}], "value": "#000000"},
         "strokeWidth": {"value": 1.5}, "opacity": {"value": 1}}}}}
     }
    }
   ],
   "resolve": {"scale": {"shape": "independent"}}
  },
  {
   "width": 483, "height": 386,
   "title": {"text": "(c)", "anchor": "start", "frame": "group", "orient": "top", "offset": 0, "dx": -97, "dy": 29, "baseline": "alphabetic", "fontSize": 24, "fontWeight": "normal", "font": "Liberation Sans", "color": "black"},
   "data": {"name": "EL"},
   "mark": {"type": "line", "strokeWidth": 1.5},
   "encoding": {
    "x": {"field": "w", "type": "quantitative", "scale": {"domain": [600, 900], "nice": false, "zero": false},
     "axis": {"title": "Wavelength (nm)", "values": [600,650,700,750,800,850,900], "labelExpr": "datum.value % 100 == 0 ? format(datum.value, 'd') : ''", "tickSize": {"condition": {"test": "datum.value % 100 == 0", "value": 7}, "value": 4}, "labelPadding": 5, "titleY": 64, "titleBaseline": "middle"}},
    "y": {"field": "i", "type": "quantitative", "scale": {"domain": [0, 1.1], "nice": false},
     "axis": {"title": "Normalized EL Intensity (a.u.)", "values": [0,0.25,0.5,0.75,1], "labelExpr": "(datum.value * 2) % 1 == 0 ? format(datum.value, '.1f') : ''", "tickSize": {"condition": {"test": "(datum.value * 2) % 1 == 0", "value": 7}, "value": 4}, "labelPadding": 4, "titleX": -65, "titleBaseline": "middle"}},
    "color": {"field": "s", "type": "nominal", "scale": {"domain": ["100","80","60","40","20"], "range": ["#22a022","#b34ef0","#2c3ff0","#f01c1c","#000000"]},
     "legend": {"title": null, "orient": "none", "legendX": 21, "legendY": 7, "symbolType": "M-2.9,0H2.9", "symbolSize": 400, "symbolStrokeWidth": 2, "labelFontSize": 24, "labelFont": "Liberation Sans", "labelColor": "black", "labelOffset": 25, "rowPadding": 7.5, "padding": 0}}
   }
  }
 ],
 "config": {
  "font": "Liberation Sans",
  "view": {"stroke": "black", "strokeWidth": 2},
  "axis": {"domainColor": "black", "domainWidth": 2, "tickColor": "black", "tickWidth": 2, "labelColor": "black", "titleColor": "black", "labelFont": "Liberation Sans", "titleFont": "Liberation Sans", "labelFontSize": 25, "titleFontSize": 25, "titleFontWeight": "normal", "grid": false, "labelFlush": false, "labelOverlap": false, "labelBound": false}
 }
}
